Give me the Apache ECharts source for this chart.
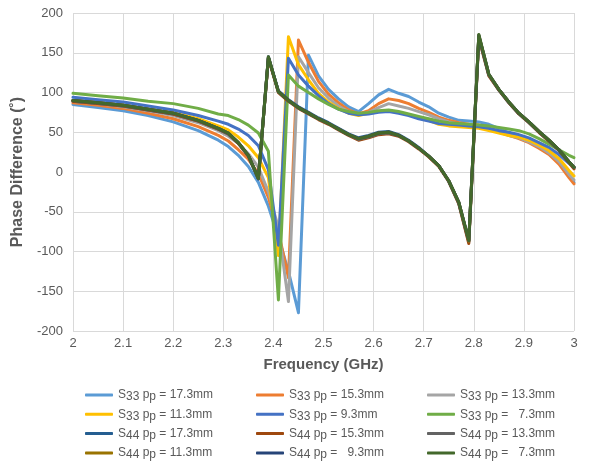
<!DOCTYPE html>
<html>
<head>
<meta charset="utf-8">
<script src="https://cdn.jsdelivr.net/npm/echarts@6/dist/echarts.min.js"></script>
<style>
html,body{margin:0;padding:0;background:#fff;}
#chart{width:590px;height:466px;}
</style>
</head>
<body>
<div id="chart"></div>
<script>
// Frequency samples (GHz)
const freq = [2.00, 2.05, 2.10, 2.15, 2.20, 2.25, 2.29, 2.31, 2.33, 2.35, 2.37, 2.39, 2.41, 2.43, 2.45, 2.47, 2.49, 2.51, 2.53, 2.55, 2.57, 2.59, 2.61, 2.63, 2.65, 2.67, 2.69, 2.71, 2.73, 2.75, 2.77, 2.79, 2.81, 2.83, 2.85, 2.87, 2.89, 2.91, 2.93, 2.95, 2.97, 2.99, 3.00];

// S33 phase difference (deg)
const s33_173 = [85, 81, 77, 71, 63, 52, 40, 32, 21, 7, -13, -43, -82, -125, -177, 147, 121, 104, 92, 82, 76, 86, 97, 104, 99, 95, 88, 82, 74, 69, 65, 64, 63, 60, 55, 49, 43, 38, 31, 23, 12, -5, -13];
const s33_153 = [87, 84, 80, 74, 67, 57, 46, 39, 28, 16, -2, -32, -75, -133, 166, 138, 114, 98, 87, 78, 73, 77, 86, 92, 90, 86, 80, 75, 69, 65, 62, 60, 59, 55, 51, 46, 42, 37, 30, 22, 10, -7, -15];
const s33_133 = [89, 86, 82, 77, 71, 62, 52, 45, 36, 23, 6, -25, -70, -163, 145, 125, 106, 93, 83, 76, 72, 75, 81, 86, 83, 80, 76, 72, 67, 63, 60, 59, 58, 54, 50, 46, 43, 38, 32, 24, 13, -3, -10];
const s33_113 = [90, 87, 84, 79, 75, 67, 58, 53, 44, 33, 18, -7, -105, 170, 135, 116, 99, 88, 80, 74, 71, 74, 76, 77, 75, 72, 68, 65, 60, 58, 57, 56, 55, 52, 49, 46, 44, 40, 34, 27, 17, 2, -5];
const s33_93  = [94, 91, 88, 83, 78, 71, 64, 60, 54, 46, 33, 3, -92, 143, 122, 108, 96, 86, 79, 74, 72, 73, 75, 76, 74, 71, 67, 64, 61, 60, 59, 58, 57, 55, 52, 50, 47, 43, 37, 31, 22, 11, 6];
const s33_73  = [99, 96, 93, 89, 86, 80, 73, 71, 66, 59, 49, 26, -161, 122, 108, 100, 92, 85, 79, 76, 74, 75, 77, 78, 76, 73, 70, 67, 64, 62, 61, 60, 59, 58, 56, 54, 52, 48, 42, 35, 28, 21, 18];

// S44 phase difference (deg)
const s44_173 = [89, 86, 83, 78, 73, 64, 54, 48, 36, 20, -9, 144, 102, 91, 82, 75, 68, 62, 55, 48, 43, 46, 50, 51, 47, 40, 31, 20, 8, -12, -39, -88, 170, 122, 103, 87, 73, 62, 50, 39, 27, 12, 5];
const s44_153 = [89, 86, 83, 78, 73, 64, 54, 48, 36, 20, -8, 143, 100, 89, 80, 73, 66, 60, 53, 46, 40, 43, 47, 48, 45, 38, 29, 19, 7, -12, -40, -90, 168, 121, 103, 87, 73, 62, 50, 39, 27, 12, 4];
const s44_133 = [90, 87, 84, 79, 74, 65, 55, 48, 37, 21, -8, 144, 101, 90, 81, 74, 67, 61, 54, 47, 41, 44, 48, 49, 46, 39, 30, 20, 8, -11, -39, -87, 171, 122, 104, 88, 74, 63, 51, 40, 28, 13, 6];
const s44_113 = [90, 87, 84, 79, 74, 65, 55, 49, 37, 21, -8, 144, 101, 90, 81, 74, 67, 61, 54, 47, 42, 45, 49, 50, 46, 39, 30, 20, 8, -11, -38, -87, 172, 123, 104, 88, 74, 63, 51, 40, 28, 13, 6];
const s44_93  = [90, 87, 84, 79, 74, 65, 55, 49, 37, 21, -8, 145, 101, 90, 81, 74, 67, 61, 54, 47, 42, 45, 49, 50, 46, 39, 30, 20, 8, -11, -38, -86, 172, 123, 104, 88, 74, 63, 51, 40, 28, 13, 6];
const s44_73  = [90, 87, 84, 79, 74, 65, 55, 49, 37, 21, -8, 145, 101, 90, 81, 74, 67, 61, 54, 47, 42, 45, 49, 50, 46, 39, 30, 20, 8, -11, -38, -86, 173, 123, 104, 88, 74, 63, 51, 40, 28, 13, 6];

// Series labels
const seriesNames = ['S33 17.3', 'S33 15.3', 'S33 13.3', 'S33 11.3', 'S33 9.3', 'S33 7.3',
                     'S44 17.3', 'S44 15.3', 'S44 13.3', 'S44 11.3', 'S44 9.3', 'S44 7.3'];
const ppTexts = ['17.3mm', '15.3mm', '13.3mm', '11.3mm', '9.3mm', '  7.3mm',
                 '17.3mm', '15.3mm', '13.3mm', '11.3mm', '  9.3mm', '  7.3mm'];
const seriesValues = [s33_173, s33_153, s33_133, s33_113, s33_93, s33_73,
                      s44_173, s44_153, s44_133, s44_113, s44_93, s44_73];
const colors = ['#5B9BD5', '#ED7D31', '#A5A5A5', '#FFC000', '#4472C4', '#70AD47',
                '#255E91', '#9E480E', '#636363', '#997300', '#264478', '#43682B'];

const xTicks = ['2', '2.1', '2.2', '2.3', '2.4', '2.5', '2.6', '2.7', '2.8', '2.9', '3'];

const chart = echarts.init(document.getElementById('chart'), null, {renderer: 'canvas'});
const FONT = 'Liberation Sans, Arial, sans-serif';
const TXT = '#595959';

const series = seriesNames.map((n, k) => ({
  name: n,
  type: 'line',
  data: freq.map((f, i) => [f, seriesValues[k][i]]),
  showSymbol: false,
  symbol: 'none',
  smooth: false,
  lineStyle: {color: colors[k], width: 3, cap: 'round', join: 'round'},
  itemStyle: {color: colors[k]},
  emphasis: {disabled: true},
  animation: false
}));

function legendFmt(name) {
  const k = seriesNames.indexOf(name);
  const p = name.split(' ')[0];
  return '{m|S}{s|' + p.slice(1) + '}{m| p}{s|p}{m| = ' + ppTexts[k] + '}';
}

const rich = {
  m: {fontSize: 12, lineHeight: 16, color: TXT, fontFamily: FONT},
  s: {fontSize: 12, lineHeight: 10, verticalAlign: 'bottom', color: TXT, fontFamily: FONT}
};

const cols = [
  [0, 3, 6, 9],
  [1, 4, 7, 10],
  [2, 5, 8, 11]
];
const legendLefts = [80, 251, 422];

const legends = cols.map((c, j) => ({
  orient: 'vertical',
  left: legendLefts[j],
  top: 384,
  itemGap: 3.3,
  itemWidth: 28,
  itemHeight: 3,
  icon: 'roundRect',
  data: c.map(i => seriesNames[i]),
  formatter: legendFmt,
  textStyle: {color: TXT, fontFamily: FONT, fontSize: 12, rich: rich},
  selectedMode: false
}));
legends.forEach(l => { l.itemGap = 5.3; });

chart.setOption({
  animation: false,
  backgroundColor: '#fff',
  grid: {left: 73, right: 16, top: 13, bottom: 135},
  legend: legends,
  xAxis: {
    type: 'value', min: 2, max: 3, interval: 0.1,
    name: 'Frequency (GHz)', nameLocation: 'middle', nameGap: 26,
    nameTextStyle: {fontFamily: FONT, fontSize: 15, fontWeight: 'bold', color: TXT},
    axisLine: {show: false}, axisTick: {show: false},
    axisLabel: {
      fontFamily: FONT, fontSize: 13, color: TXT, margin: 6,
      formatter: v => xTicks[Math.round((v - 2) * 10)]
    },
    splitLine: {show: true, lineStyle: {color: '#d9d9d9', width: 1}}
  },
  yAxis: {
    type: 'value', min: -200, max: 200, interval: 50,
    name: 'Phase Difference (˚)', nameLocation: 'middle', nameGap: 43, nameRotate: 90,
    nameTextStyle: {fontFamily: FONT, fontSize: 16, fontWeight: 'bold', color: TXT},
    axisLine: {show: false}, axisTick: {show: false},
    axisLabel: {fontFamily: FONT, fontSize: 13, color: TXT, margin: 10},
    splitLine: {show: true, lineStyle: {color: '#d9d9d9', width: 1}}
  },
  series: series
});
</script>
</body>
</html>
